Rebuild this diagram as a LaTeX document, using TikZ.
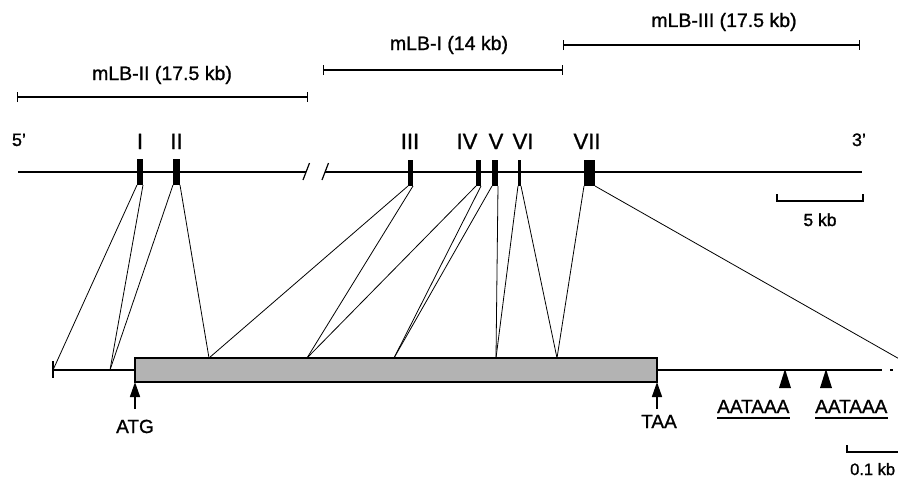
\documentclass[tikz,border=0pt]{standalone}
\usepackage{fontspec}
\setmainfont{Liberation Sans}[FakeBold=1.1]
\usetikzlibrary{arrows.meta}
\definecolor{cdsgray}{HTML}{B3B3B3}
\begin{document}
\begin{tikzpicture}[x=1pt,y=-1pt,
  clonelbl/.style={font=\fontsize{19.5}{21}\selectfont, inner sep=0, anchor=base},
  exlbl/.style={font=\fontsize{22}{24}\selectfont, inner sep=0, anchor=base},
  endlbl/.style={font=\fontsize{18}{20}\selectfont, inner sep=0, anchor=base},
  scalelbl/.style={font=\fontsize{17.5}{19}\selectfont, inner sep=0, anchor=base},
  sitelbl/.style={font=\fontsize{19}{21}\selectfont, inner sep=0, anchor=base},
  exon/.style={fill=black, inner sep=0, outer sep=0, minimum height=26pt},
  clone/.style={line width=1.4pt, {Bar[width=10pt,line width=1.4pt]}-{Bar[width=10pt,line width=1.4pt]}},
  dna/.style={line width=1.4pt},
  link/.style={line width=0.8pt},
  codon/.style={line width=1.6pt, -{Triangle[length=15pt,width=10pt]}},
  polya/.style={fill=black}
]
\useasboundingbox (0,0) rectangle (898,479);
\clip (0,0) rectangle (898,479);

% genomic clones
\draw[clone] (17,97) -- (308,97);
\draw[clone] (323,70) -- (563,70);
\draw[clone] (563,45) -- (860,45);
\node[clonelbl] (cII)  at (162,80) {mLB-II (17.5 kb)};
\node[clonelbl] (cI)   at (449,50) {mLB-I (14 kb)};
\node[clonelbl] (cIII) at (724,27) {mLB-III (17.5 kb)};

% genomic locus with a break
\coordinate (g0) at (18,172);
\coordinate (gbL) at (306,172);
\coordinate (gbR) at (325,172);
\coordinate (g1) at (862,172);
\draw[dna] (g0) -- (gbL);
\draw[dna] (gbR) -- (g1);
\draw[line width=1.2pt] (303,180) -- (309.5,163);
\draw[line width=1.2pt] (322,180) -- (328.5,163);
\node[endlbl] (five)  at (19,146) {5'};
\node[endlbl] (three) at (859,146) {3'};

% exons
\node[exon, minimum width=6pt]  (e1) at (140,172) {};
\node[exon, minimum width=7pt]  (e2) at (176.5,172) {};
\node[exon, minimum width=5pt]  (e3) at (410.5,173) {};
\node[exon, minimum width=5pt]  (e4) at (478.5,173) {};
\node[exon, minimum width=6pt]  (e5) at (495,173) {};
\node[exon, minimum width=3pt]  (e6) at (519.5,173) {};
\node[exon, minimum width=11pt] (e7) at (589.5,173) {};
\node[exlbl] at (140,149) {I};
\node[exlbl] at (176.5,149) {II};
\node[exlbl] at (410,149) {III};
\node[exlbl] at (467,149) {IV};
\node[exlbl] at (496,149) {V};
\node[exlbl] at (523,149) {VI};
\node[exlbl] at (587,149) {VII};

% 5 kb scale
\draw[line width=1.2pt] (777,194) -- (777,201) -- (863,201) -- (863,194);
\node[scalelbl] (kb5) at (820,226) {5 kb};

% transcript
\coordinate (m0) at (53,370);
\coordinate (m1) at (110,370);
\coordinate (mR) at (882,370);
\draw[dna] (m0) -- (135,370);
\draw[line width=1.4pt] (53,361) -- (53,378);
\node[draw, line width=1.1pt, fill=cdsgray, inner sep=0, outer sep=0,
      minimum width=522pt, minimum height=24pt, anchor=north west] (cds) at (135,358) {};
\draw[dna] (cds.east) -- (mR);
\draw[line width=1.2pt] (890,370) -- (893,370);
\coordinate (b1) at (209,358);
\coordinate (b2) at (307,358);
\coordinate (b3) at (394,358);
\coordinate (b4) at (496,358);
\coordinate (b5) at (557,358);
\coordinate (mEnd) at (917,369);

% exon-to-transcript links
\draw[link] (e1.south west) -- (m0);
\draw[link] (e1.south east) -- (m1);
\draw[link] (e2.south west) -- (m1);
\draw[link] (e2.south east) -- (b1);
\draw[link] (e3.south west) -- (b1);
\draw[link] (e3.south east) -- (b2);
\draw[link] (e4.south west) -- (b2);
\draw[link] (e4.south east) -- (b3);
\draw[link] (e5.south west) -- (b3);
\draw[link] (e5.south east) -- (b4);
\draw[link] (e6.south west) -- (b4);
\draw[link] (e6.south east) -- (b5);
\draw[link] (e7.south west) -- (b5);
\draw[link] (e7.south east) -- (mEnd);

% start and stop codons
\coordinate (atgT) at (135,409);
\coordinate (taaT) at (657,409);
\draw[codon] (atgT) -- (cds.south west);
\draw[codon] (taaT) -- (cds.south east);
\node[sitelbl] (atg) at (135,433) {ATG};
\node[sitelbl] (taa) at (659,428) {TAA};

% polyadenylation signals
\fill[polya] (785,369) -- (791,388) -- (779,388) -- cycle;
\fill[polya] (826,369) -- (832,388) -- (820,388) -- cycle;
\node[sitelbl, anchor=base west] (pa1) at (717,413) {AATAAA};
\node[sitelbl, anchor=base west] (pa2) at (815,413) {AATAAA};
\draw[line width=1.2pt] ([yshift=-5pt]pa1.base west) -- ([yshift=-5pt]pa1.base east);
\draw[line width=1.2pt] ([yshift=-5pt]pa2.base west) -- ([yshift=-5pt]pa2.base east);

% 0.1 kb scale
\draw[line width=1.2pt] (847,445) -- (847,452) -- (905,452);
\node[font=\fontsize{16.5}{18}\selectfont, inner sep=0, anchor=base west] (kb01) at (850,475) {0.1 kb};
\end{tikzpicture}
\end{document}
